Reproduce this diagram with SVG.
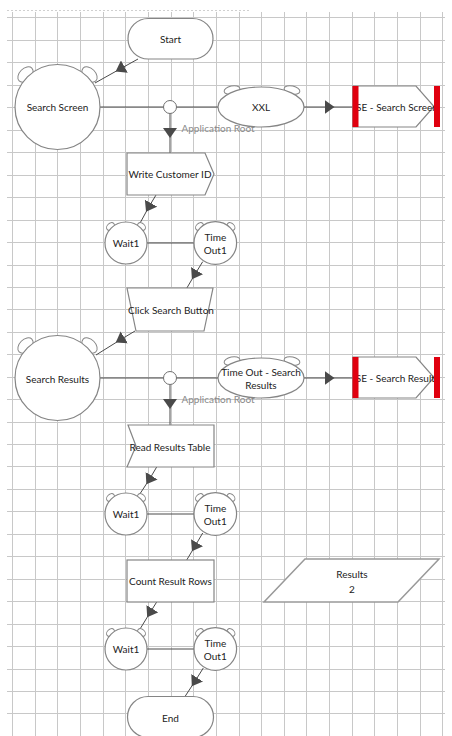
<svg xmlns="http://www.w3.org/2000/svg" width="452" height="736" viewBox="0 0 452 736">
<defs>
<style>
.grid{fill:none;stroke:#c8c8c8;stroke-width:1}
.node{fill:#fff;stroke:#858585;stroke-width:1.2}
.ear{fill:#fff;stroke:#858585;stroke-width:1}
.bar{fill:#e0000f}
.jn{fill:#fff;stroke:#707070;stroke-width:1}
.conn{fill:none;stroke:#4a4a4a;stroke-width:1}
.arr{marker-mid:url(#ah)}
.t{font-family:Lato,"Open Sans","Liberation Sans",sans-serif;font-size:10px;fill:#222;text-anchor:middle;dominant-baseline:central}
.lbl{font-family:Lato,"Open Sans","Liberation Sans",sans-serif;font-size:10px;fill:#8a8a8a}
</style>
<marker id="ah" viewBox="0 0 10 14" refX="5" refY="7" markerWidth="10" markerHeight="14" markerUnits="userSpaceOnUse" orient="auto">
<path d="M0,0 L10,7 L0,14 z" fill="#4a4a4a"/>
</marker>
</defs>
<rect width="452" height="736" fill="#fff"/>
<line x1="7" y1="10.5" x2="250" y2="10.5" stroke="#d0d0d0" stroke-dasharray="2 2"/>
<path class="grid" d="M7,17.5H445M7,40.5H445M7,62.5H445M7,85.5H445M7,107.5H445M7,130.5H445M7,152.5H445M7,175.5H445M7,197.5H445M7,220.5H445M7,242.5H445M7,265.5H445M7,287.5H445M7,309.5H445M7,332.5H445M7,354.5H445M7,377.5H445M7,399.5H445M7,422.5H445M7,444.5H445M7,466.5H445M7,489.5H445M7,511.5H445M7,534.5H445M7,556.5H445M7,579.5H445M7,601.5H445M7,624.5H445M7,646.5H445M7,669.5H445M7,691.5H445M7,713.5H445M12.5,12V736M35.5,12V736M57.5,12V736M80.5,12V736M103.5,12V736M125.5,12V736M148.5,12V736M171.5,12V736M193.5,12V736M216.5,12V736M239.5,12V736M261.5,12V736M284.5,12V736M306.5,12V736M329.5,12V736M352.5,12V736M374.5,12V736M397.5,12V736M420.5,12V736M442.5,12V736"/>

<g id="connectors">
<path class="conn arr" d="M138,59 L120,69 L95,83"/>
<path class="conn" d="M100,107 H218"/>
<path class="conn arr" d="M170,113.5 L170,133 L170,153"/>
<path class="conn arr" d="M304,107 L329.5,107 L353,107"/>
<path class="conn arr" d="M156,195 L148.5,207.5 L139,225"/>
<path class="conn" d="M147,243 H194"/>
<path class="conn arr" d="M202.7,261.7 L194.5,275 L186.7,288.3"/>
<path class="conn arr" d="M135,331 L120,340 L96,355"/>
<path class="conn" d="M100,378 H218"/>
<path class="conn arr" d="M170,384.5 L170,404 L170,425"/>
<path class="conn arr" d="M304,378 L329.5,378 L353,378"/>
<path class="conn arr" d="M156.7,467 L149,480 L138.5,496"/>
<path class="conn" d="M147,514 H194"/>
<path class="conn arr" d="M202.7,533 L194.5,547 L186.7,560"/>
<path class="conn arr" d="M156.7,602 L149.8,613 L138.5,631.5"/>
<path class="conn" d="M147,649 H194"/>
<path class="conn arr" d="M203.3,668 L194.5,682 L185,696.5"/>
</g>

<g id="start">
<rect class="node" x="128" y="18.5" width="85" height="40.5" rx="20.2"/>
<text class="t" x="170.5" y="39">Start</text>
</g>

<g id="search-screen">
<ellipse class="ear" cx="25.5" cy="74.5" rx="9" ry="6" transform="rotate(-45 25.5 74.5)"/>
<ellipse class="ear" cx="89.5" cy="74.5" rx="9" ry="6" transform="rotate(45 89.5 74.5)"/>
<circle class="node" cx="57.5" cy="107" r="42.5"/>
<text class="t" x="57.5" y="107">Search Screen</text>
</g>

<g id="junction1">
<circle class="jn" cx="170" cy="107" r="6.5"/>
<text class="lbl" x="181.5" y="131.5">Application Root</text>
</g>

<g id="xxl">
<ellipse class="ear" cx="232" cy="90" rx="8" ry="4" transform="rotate(-12 232 90)"/>
<ellipse class="ear" cx="292" cy="90" rx="8" ry="4" transform="rotate(12 292 90)"/>
<ellipse class="node" cx="261" cy="107" rx="43" ry="20"/>
<text class="t" x="261" y="107">XXL</text>
</g>

<g id="se-search-screen">
<polygon class="node" points="353,86 416,86 434,106.5 416,127 353,127"/>
<text class="t" x="397" y="107">SE - Search Screen</text>
<rect class="bar" x="352.5" y="86" width="6" height="41"/>
<rect class="bar" x="434" y="86" width="6" height="41"/>
</g>

<g id="write-customer-id">
<polygon class="node" points="127,153 205,153 214,174 205,195 127,195"/>
<text class="t" x="170" y="174">Write Customer ID</text>
</g>

<g id="wait1-a">
<ellipse class="ear" cx="110.5" cy="226.5" rx="4.5" ry="3.2" transform="rotate(-45 110.5 226.5)"/>
<ellipse class="ear" cx="141.5" cy="226.5" rx="4.5" ry="3.2" transform="rotate(45 141.5 226.5)"/>
<circle class="node" cx="126" cy="243" r="21"/>
<text class="t" x="126" y="243">Wait1</text>
</g>

<g id="timeout1-a">
<ellipse class="ear" cx="199.5" cy="226.5" rx="4.5" ry="3.2" transform="rotate(-45 199.5 226.5)"/>
<ellipse class="ear" cx="231" cy="226.5" rx="4.5" ry="3.2" transform="rotate(45 231 226.5)"/>
<circle class="node" cx="215.3" cy="243" r="21.3"/>
<text class="t" x="215.3" y="236.5">Time</text>
<text class="t" x="215.3" y="250">Out1</text>
</g>

<g id="click-search-button">
<polygon class="node" points="127,288 213,288 204,331 136,331"/>
<text class="t" x="171" y="310">Click Search Button</text>
</g>

<g id="search-results">
<ellipse class="ear" cx="25.5" cy="345.5" rx="9" ry="6" transform="rotate(-45 25.5 345.5)"/>
<ellipse class="ear" cx="89.5" cy="345.5" rx="9" ry="6" transform="rotate(45 89.5 345.5)"/>
<circle class="node" cx="57.5" cy="378" r="42.5"/>
<text class="t" x="57.5" y="379">Search Results</text>
</g>

<g id="junction2">
<circle class="jn" cx="170" cy="378" r="6.5"/>
<text class="lbl" x="181.5" y="403">Application Root</text>
</g>

<g id="timeout-search-results">
<ellipse class="ear" cx="232" cy="361" rx="8" ry="4" transform="rotate(-12 232 361)"/>
<ellipse class="ear" cx="292" cy="361" rx="8" ry="4" transform="rotate(12 292 361)"/>
<ellipse class="node" cx="261" cy="378" rx="43" ry="20"/>
<text class="t" x="261" y="372">Time Out - Search</text>
<text class="t" x="261" y="384.5">Results</text>
</g>

<g id="se-search-results">
<polygon class="node" points="353,357 416,357 434,377.5 416,398 353,398"/>
<text class="t" x="397.5" y="378">SE - Search Results</text>
<rect class="bar" x="352.5" y="357" width="6" height="41"/>
<rect class="bar" x="434" y="357" width="6" height="41"/>
</g>

<g id="read-results-table">
<polygon class="node" points="128,425 214,425 214,467 127,467 136,446"/>
<text class="t" x="170" y="447">Read Results Table</text>
</g>

<g id="wait1-b">
<ellipse class="ear" cx="110.5" cy="497.5" rx="4.5" ry="3.2" transform="rotate(-45 110.5 497.5)"/>
<ellipse class="ear" cx="141.5" cy="497.5" rx="4.5" ry="3.2" transform="rotate(45 141.5 497.5)"/>
<circle class="node" cx="126" cy="514" r="21"/>
<text class="t" x="126" y="514">Wait1</text>
</g>

<g id="timeout1-b">
<ellipse class="ear" cx="199.5" cy="497.5" rx="4.5" ry="3.2" transform="rotate(-45 199.5 497.5)"/>
<ellipse class="ear" cx="231" cy="497.5" rx="4.5" ry="3.2" transform="rotate(45 231 497.5)"/>
<circle class="node" cx="215.3" cy="514" r="21.3"/>
<text class="t" x="215.3" y="507.5">Time</text>
<text class="t" x="215.3" y="521">Out1</text>
</g>

<g id="count-result-rows">
<rect class="node" x="127" y="560" width="87" height="42"/>
<text class="t" x="170.5" y="581">Count Result Rows</text>
</g>

<g id="results-2">
<polygon class="node" points="305,559 439,559 398,602 264,602" style="stroke:#999;stroke-width:1.5"/>
<text class="t" x="352" y="574">Results</text>
<text class="t" x="352" y="588.5">2</text>
</g>

<g id="wait1-c">
<ellipse class="ear" cx="110.5" cy="632.5" rx="4.5" ry="3.2" transform="rotate(-45 110.5 632.5)"/>
<ellipse class="ear" cx="141.5" cy="632.5" rx="4.5" ry="3.2" transform="rotate(45 141.5 632.5)"/>
<circle class="node" cx="126" cy="649" r="21"/>
<text class="t" x="126" y="649">Wait1</text>
</g>

<g id="timeout1-c">
<ellipse class="ear" cx="199.5" cy="632.5" rx="4.5" ry="3.2" transform="rotate(-45 199.5 632.5)"/>
<ellipse class="ear" cx="231" cy="632.5" rx="4.5" ry="3.2" transform="rotate(45 231 632.5)"/>
<circle class="node" cx="215.3" cy="649" r="21.3"/>
<text class="t" x="215.3" y="642.5">Time</text>
<text class="t" x="215.3" y="656">Out1</text>
</g>

<g id="end">
<rect class="node" x="127.5" y="696.5" width="86" height="41" rx="20.5"/>
<text class="t" x="170.5" y="718">End</text>
</g>
</svg>
